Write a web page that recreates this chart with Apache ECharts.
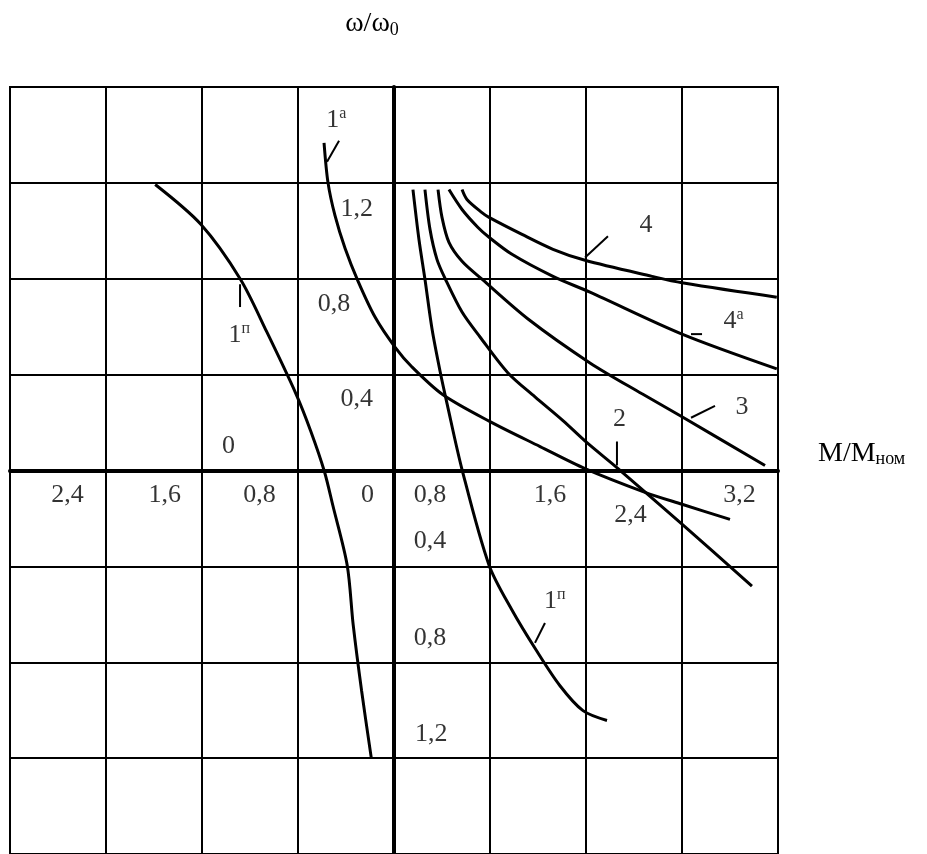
<!DOCTYPE html>
<html>
<head>
<meta charset="utf-8">
<title>ω/ω0 — M/Mном</title>
<script src="https://cdn.jsdelivr.net/npm/echarts@6/dist/echarts.min.js"></script>
<style>
  html, body { margin: 0; padding: 0; background: #fff; }
  #chart { width: 927px; height: 854px; }
</style>
</head>
<body>
<div id="chart"></div>
<script>
// кривые: x = M/Mном, y = ω/ω0 (точки)
const curve1pLeft = [[-1.99, 1.193], [-1.61, 1.027], [-1.28, 0.798], [-1.06, 0.578], [-0.817, 0.32], [-0.692, 0.162], [-0.58, -0.004], [-0.51, -0.145], [-0.39, -0.395], [-0.34, -0.644], [-0.27, -0.919], [-0.19, -1.197]]
const curve1a = [[-0.583, 1.367], [-0.55, 1.201], [-0.492, 1.064], [-0.408, 0.927], [-0.30, 0.79], [-0.158, 0.64], [0.008, 0.515], [0.15, 0.432], [0.408, 0.316], [0.80, 0.204], [1.217, 0.10], [1.592, 0.008], [2.092, -0.091], [2.40, -0.141], [2.80, -0.204]]
const curve1pRight = [[0.158, 1.172], [0.208, 0.964], [0.258, 0.798], [0.317, 0.59], [0.383, 0.416], [0.442, 0.279], [0.567, 0.004], [0.792, -0.395], [0.983, -0.582], [1.183, -0.748], [1.383, -0.898], [1.575, -1.002], [1.775, -1.043]]
const curve2 = [[0.258, 1.172], [0.30, 1.006], [0.358, 0.881], [0.425, 0.802], [0.567, 0.661], [0.717, 0.557], [0.95, 0.407], [1.175, 0.307], [1.408, 0.208], [1.608, 0.116], [1.867, 0.008], [2.40, -0.224], [2.983, -0.482]]
const curve3 = [[0.367, 1.172], [0.40, 1.056], [0.458, 0.952], [0.567, 0.873], [0.733, 0.798], [1.117, 0.632], [1.633, 0.449], [2.067, 0.32], [2.40, 0.224], [3.092, 0.021]]
const curve4a = [[0.458, 1.172], [0.567, 1.089], [0.70, 1.014], [0.792, 0.973], [0.983, 0.902], [1.325, 0.81], [1.633, 0.744], [2.40, 0.569], [3.19, 0.424]]
const curve4 = [[0.567, 1.172], [0.608, 1.131], [0.733, 1.076], [0.792, 1.056], [1.067, 0.985], [1.325, 0.923], [1.592, 0.877], [2.15, 0.81], [2.40, 0.783], [3.19, 0.723]]

// подписи делений
const xTickLabels = ['2,4', '1,6', '0,8', '0', '0,8', '1,6', '2,4', '3,2']
const yTickLabels = ['1,2', '0,8', '0,4', '0', '0,4', '0,8', '1,2']
// подписи кривых
const curveLabels = ['1{s|а}', '1{s|п}', '1{s|п}', '2', '3', '4{s|а}', '4']

// где стоят подписи (в координатах осей)
const xTickSpots = [[-2.72, -0.104], [-1.91, -0.104], [-1.12, -0.104], [-0.22, -0.104], [0.30, -0.104], [1.30, -0.104], [1.97, -0.187], [2.88, -0.104]]
const yTickSpots = [[-0.31, 1.089], [-0.5, 0.694], [-0.31, 0.299], [-1.38, 0.10], [0.30, -0.295], [0.30, -0.698], [0.31, -1.10]]
const curveLabelSpots = [[-0.48, 1.463], [-1.29, 0.565], [1.34, -0.545], [1.88, 0.216], [2.90, 0.266], [2.83, 0.623], [2.10, 1.022]]
// выноски к подписям
const leaders = [
  [[-0.458, 1.376], [-0.558, 1.288]],
  [[-1.283, 0.777], [-1.283, 0.682]],
  [[1.258, -0.636], [1.175, -0.719]],
  [[1.858, 0.121], [1.858, 0.021]],
  [[2.675, 0.27], [2.475, 0.22]],
  [[2.475, 0.569], [2.567, 0.569]],
  [[1.783, 0.977], [1.592, 0.889]],
]

const FONT = "'Liberation Serif', 'Times New Roman', serif"

const chart = echarts.init(document.getElementById('chart'))

// кривая
function curve(name, data) {
  return {
    name,
    type: 'line',
    data,
    smooth: 0.3,
    showSymbol: false,
    silent: true,
    lineStyle: { color: '#000', width: 3 },
    z: 3,
  }
}

// текст без маркера
function texts(name, labels, spots) {
  return {
    name,
    type: 'scatter',
    symbolSize: 0,
    silent: true,
    data: labels.map((t, i) => ({ value: spots[i], text: t })),
    label: {
      show: true,
      position: 'inside',
      formatter: p => '{n|' + p.data.text.replace(/\{s\|(.*?)\}/g, '}{s|$1}{n|') + '}',
      rich: {
        n: { fontFamily: FONT, fontSize: 26, color: '#000', lineHeight: 28 },
        s: { fontFamily: FONT, fontSize: 16, color: '#000', verticalAlign: 'top', lineHeight: 28 },
      },
    },
    z: 4,
  }
}

const series = [
  curve('1п', curve1pLeft),
  curve('1а', curve1a),
  curve('1п ', curve1pRight),
  curve('2', curve2),
  curve('3', curve3),
  curve('4а', curve4a),
  curve('4', curve4),
]
leaders.forEach(seg => {
  series.push({
    type: 'line',
    data: seg,
    showSymbol: false,
    silent: true,
    lineStyle: { color: '#000', width: 2 },
    z: 3,
  })
})
series.push(texts('x ticks', xTickLabels, xTickSpots))
series.push(texts('y ticks', yTickLabels, yTickSpots))
series.push(texts('curves', curveLabels, curveLabelSpots))

chart.setOption({
  animation: false,
  backgroundColor: '#fff',
  grid: {
    left: 10,
    top: 87,
    width: 768,
    height: 770,
    show: true,
    borderColor: '#000',
    borderWidth: 2,
  },
  xAxis: {
    type: 'value',
    min: -3.2,
    max: 3.2,
    interval: 0.8,
    name: '{a|M/M}{b|ном}',
    nameLocation: 'end',
    nameGap: 40,
    nameTextStyle: {
      padding: [0, 0, 34, 0],
      rich: {
        a: { fontFamily: FONT, fontSize: 28, color: '#000', lineHeight: 30 },
        b: { fontFamily: FONT, fontSize: 18, color: '#000', verticalAlign: 'bottom', lineHeight: 30 },
      },
    },
    axisLine: { onZero: true, lineStyle: { color: '#000', width: 4 } },
    axisTick: { show: false },
    axisLabel: { show: false },
    splitLine: { show: true, lineStyle: { color: '#000', width: 2 } },
  },
  yAxis: {
    type: 'value',
    min: -1.6,
    max: 1.6,
    interval: 0.4,
    name: '{a|ω/ω}{b|0}',
    nameLocation: 'end',
    nameGap: 48,
    nameTextStyle: {
      padding: [0, 44, 0, 0],
      rich: {
        a: { fontFamily: FONT, fontSize: 28, color: '#000', lineHeight: 30 },
        b: { fontFamily: FONT, fontSize: 18, color: '#000', verticalAlign: 'bottom', lineHeight: 30 },
      },
    },
    axisLine: { onZero: true, lineStyle: { color: '#000', width: 4 } },
    axisTick: { show: false },
    axisLabel: { show: false },
    splitLine: { show: true, lineStyle: { color: '#000', width: 2 } },
  },
  series,
})
</script>
</body>
</html>
